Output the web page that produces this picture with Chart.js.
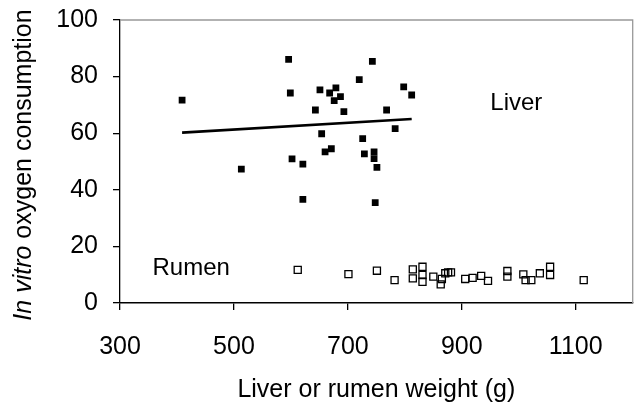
<!DOCTYPE html>
<html>
<head>
<meta charset="utf-8">
<script src="https://cdn.jsdelivr.net/npm/chart.js@4/dist/chart.umd.min.js"></script>
<style>
html, body { margin: 0; padding: 0; background: #fff; }
</style>
</head>
<body>
<canvas id="chart" width="639" height="407"></canvas>
<script>
// liver: weight (g) vs in vitro O2 consumption
const liverWeight = [409, 513, 596, 599, 602, 621, 621, 643, 651, 654, 660, 671, 668, 679, 676, 687,
	693, 720, 726, 729, 743, 746, 746, 751, 748, 768, 783, 798, 812];
const liverO2 = [71.7, 47.3, 86.1, 74.2, 50.9, 49.1, 36.6, 68.2, 75.3, 59.8, 53.4, 54.5, 74.2, 76.0, 71.5, 72.9,
	67.6, 78.9, 58.1, 52.7, 85.4, 53.4, 51.0, 47.9, 35.5, 68.2, 61.6, 76.4, 73.5];

// rumen
const rumenWeight = [612, 701, 751, 782, 814, 814, 831, 831, 831, 850, 865, 863, 871, 876, 881,
	906, 919, 934, 946, 980, 980, 1008, 1012, 1022, 1037, 1055, 1055, 1114];
const rumenO2 = [11.7, 10.2, 11.4, 8.1, 11.9, 8.7, 12.8, 9.9, 7.5, 9.3, 8.5, 6.6, 10.5, 10.8, 10.8,
	8.5, 8.9, 9.6, 7.8, 11.3, 9.3, 10.1, 8.1, 8.1, 10.5, 12.8, 9.9, 8.1];

// liver trend line end points
const trendWeight = [409, 812];
const trendO2 = [60.2, 65.0];

const xTicks = [300, 500, 700, 900, 1100];
const yTicks = [0, 20, 40, 60, 80, 100];

const labelNames = ['Liver', 'Rumen'];
const labelWeight = [950, 357];
const labelO2 = [70.7, 12.4];

const FONT = '"Liberation Sans", Arial, sans-serif';
const toPoints = (xs, ys) => xs.map((x, i) => ({x, y: ys[i]}));

const frame = {
	id: 'frame',
	afterDraw(chart) {
		const {ctx, chartArea: a} = chart;
		ctx.save();
		ctx.strokeStyle = '#999';
		ctx.lineWidth = 1.3;
		ctx.beginPath();
		ctx.moveTo(a.left, a.top);
		ctx.lineTo(a.right, a.top);
		ctx.lineTo(a.right, a.bottom);
		ctx.stroke();
		ctx.restore();
	}
};

const texts = {
	id: 'texts',
	afterDraw(chart) {
		const {ctx, chartArea: a, scales} = chart;
		ctx.save();
		ctx.fillStyle = '#000';
		ctx.textBaseline = 'middle';
		ctx.textAlign = 'left';
		ctx.font = `24px ${FONT}`;
		labelNames.forEach((t, i) => {
			ctx.fillText(t, scales.x.getPixelForValue(labelWeight[i]), scales.y.getPixelForValue(labelO2[i]));
		});

		// y title, "In vitro" in italics
		const it = 'In vitro', rest = ' oxygen consumption';
		ctx.translate(24, (a.top + a.bottom) / 2 + 3.5);
		ctx.rotate(-Math.PI / 2);
		ctx.font = `italic 25px ${FONT}`;
		const w1 = ctx.measureText(it).width;
		ctx.font = `25px ${FONT}`;
		const w2 = ctx.measureText(rest).width;
		const x0 = -(w1 + w2) / 2;
		ctx.font = `italic 25px ${FONT}`;
		ctx.fillText(it, x0, 0);
		ctx.font = `25px ${FONT}`;
		ctx.fillText(rest, x0 + w1, 0);
		ctx.restore();
	}
};

new Chart(document.getElementById('chart'), {
	type: 'scatter',
	data: {
		datasets: [{
			type: 'line',
			data: toPoints(trendWeight, trendO2),
			borderColor: '#000',
			borderWidth: 2.6,
			pointRadius: 0,
			fill: false
		}, {
			data: toPoints(liverWeight, liverO2),
			pointStyle: 'rect',
			pointRadius: 4.8,
			backgroundColor: '#000',
			borderColor: '#000',
			borderWidth: 0
		}, {
			data: toPoints(rumenWeight, rumenO2),
			pointStyle: 'rect',
			pointRadius: 5,
			backgroundColor: 'rgba(0,0,0,0)',
			borderColor: '#000',
			borderWidth: 1.3
		}]
	},
	options: {
		responsive: false,
		animation: false,
		layout: {padding: {top: 20, right: 4, left: 0, bottom: 0}},
		plugins: {
			legend: {display: false},
			tooltip: {enabled: false}
		},
		scales: {
			x: {
				type: 'linear',
				min: 300,
				max: 1200,
				afterBuildTicks: s => { s.ticks = xTicks.map(v => ({value: v})); },
				afterFit: s => { s.height = 104; s.paddingLeft = 0; s.paddingRight = 0; },
				border: {color: '#000', width: 1.5},
				grid: {drawOnChartArea: false, drawTicks: true, tickLength: 7, color: '#000', lineWidth: 1.3},
				ticks: {color: '#000', padding: 22, maxRotation: 0, callback: v => String(v), font: {family: FONT, size: 25}},
				title: {
					display: true,
					text: 'Liver or rumen weight (g)',
					color: '#000',
					padding: {top: 0, bottom: 2},
					font: {family: FONT, size: 25}
				}
			},
			y: {
				min: 0,
				max: 100,
				afterBuildTicks: s => { s.ticks = yTicks.map(v => ({value: v})); },
				afterFit: s => { s.width = 120; s.paddingTop = 0; s.paddingBottom = 0; },
				border: {color: '#000', width: 1.3},
				grid: {drawOnChartArea: false, drawTicks: true, tickLength: 7, color: '#000', lineWidth: 1.3},
				ticks: {color: '#000', padding: 15, callback: v => String(v), font: {family: FONT, size: 25}}
			}
		}
	},
	plugins: [frame, texts]
});
</script>
</body>
</html>
